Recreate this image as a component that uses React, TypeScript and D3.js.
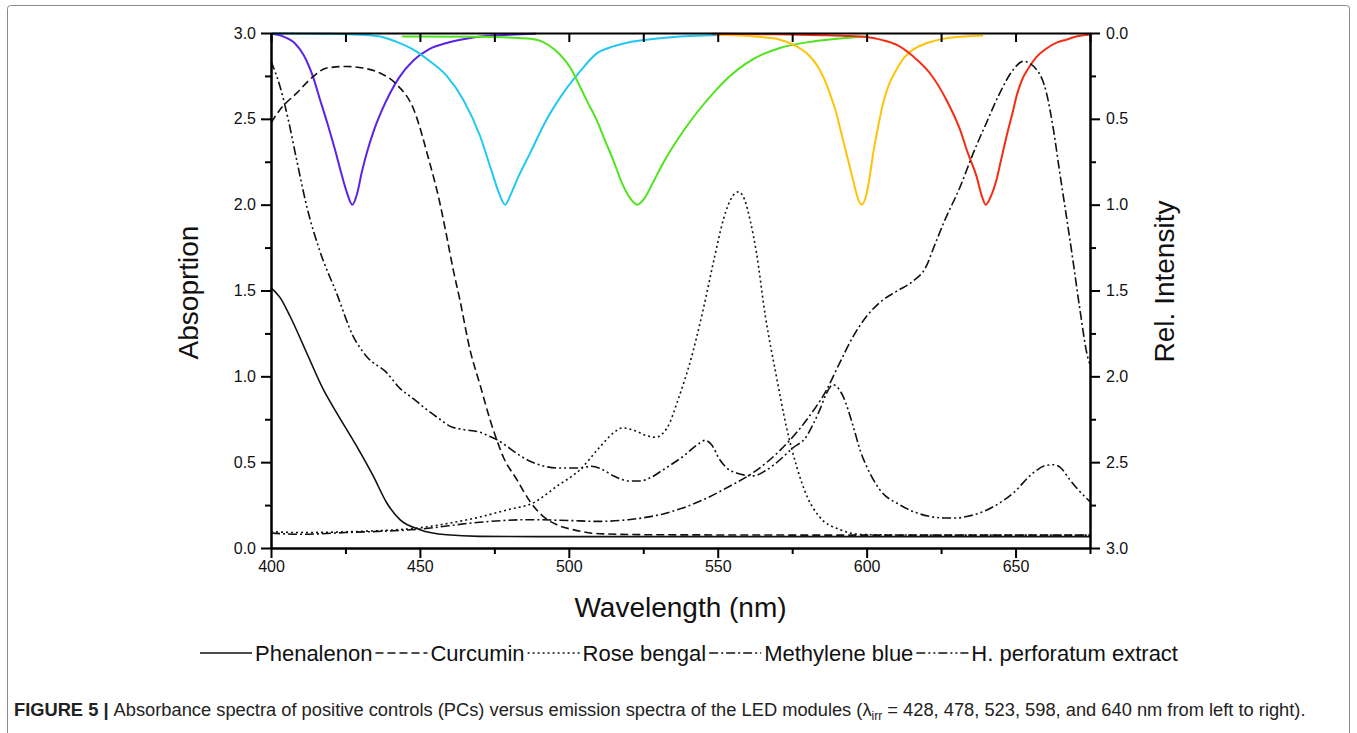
import React, { useEffect, useRef } from 'react';
import * as d3 from 'd3';

type Pt = [number, number];

// LED emission spectra (wavelength nm, relative intensity) - right axis
const led428: Pt[] = [[400,0.005],[404,0.02],[408,0.06],[411,0.13],[414,0.25],[416.5,0.39],[419,0.53],[421.5,0.68],[423.5,0.81],[425.5,0.93],[427.3,1.0],[429,0.93],[430.5,0.81],[432.3,0.69],[434.5,0.57],[437,0.46],[440,0.35],[443,0.26],[447.8,0.16],[453,0.095],[459,0.058],[465,0.035],[472,0.018],[480,0.01],[489,0.005]];
const led478: Pt[] = [[400,0.002],[420,0.004],[430,0.01],[436.6,0.02],[442,0.05],[447.8,0.097],[453,0.16],[459,0.25],[464.6,0.39],[470.2,0.6],[474,0.8],[476.5,0.93],[478.6,1.0],[480.5,0.94],[483,0.84],[487,0.7],[492.5,0.505],[498.1,0.35],[503.7,0.225],[509.3,0.12],[514.9,0.078],[520,0.055],[526,0.039],[537.3,0.02],[548,0.013],[560,0.008]];
const led523: Pt[] = [[444,0.02],[470,0.022],[480,0.026],[486,0.032],[491,0.05],[495.5,0.1],[500.4,0.2],[503.7,0.31],[506.5,0.41],[509.3,0.505],[512,0.62],[514.9,0.74],[518,0.88],[520.5,0.96],[523,1.0],[525.5,0.96],[528,0.88],[531.7,0.757],[537.3,0.6],[542.9,0.466],[548.5,0.35],[554.1,0.25],[559.7,0.175],[565,0.125],[570.9,0.087],[582,0.049],[590,0.033],[600,0.02]];
const led598: Pt[] = [[549.6,0.01],[559.7,0.016],[566,0.026],[570.9,0.039],[575,0.065],[579.8,0.117],[583,0.18],[585.3,0.25],[587.8,0.36],[589.8,0.466],[591.6,0.59],[593.2,0.7],[595.5,0.86],[597,0.96],[598.3,1.0],[599.8,0.95],[601,0.84],[602.2,0.7],[603.8,0.55],[605.5,0.41],[607.5,0.3],[610,0.214],[612.5,0.145],[615.6,0.097],[620,0.06],[626.8,0.03],[633,0.02],[639.1,0.014]];
const led640: Pt[] = [[548,0.005],[570,0.008],[585,0.013],[593,0.017],[600,0.023],[605,0.04],[610,0.068],[615.6,0.136],[621.2,0.233],[626.8,0.39],[631.3,0.56],[634,0.7],[636.9,0.835],[638.7,0.95],[640,1.0],[641.5,0.96],[643.6,0.855],[645,0.75],[647,0.6],[649.2,0.45],[650.3,0.37],[652,0.28],[654.7,0.195],[657,0.14],[660.4,0.09],[664,0.055],[667,0.039],[670.4,0.02],[674.6,0.01]];

// Absorption spectra of positive controls - left axis
const phenalenon: Pt[] = [[400,1.515],[403,1.46],[406.4,1.35],[412,1.136],[417.6,0.922],[422.1,0.786],[428.8,0.592],[434.4,0.417],[438.9,0.262],[443.3,0.165],[450,0.107],[459,0.077],[470,0.068],[500,0.066],[600,0.066],[675,0.066]];
const curcumin: Pt[] = [[400,2.476],[403,2.553],[408.6,2.65],[414.2,2.747],[418.7,2.796],[425.3,2.805],[430.9,2.796],[436.6,2.767],[442.2,2.7],[447.8,2.56],[453,2.262],[456.7,2.01],[459,1.815],[461.2,1.62],[463.4,1.447],[466.8,1.156],[470.2,0.95],[473.5,0.75],[475.8,0.63],[478,0.53],[482.5,0.4],[487,0.27],[491.4,0.184],[496,0.135],[501.4,0.107],[510.4,0.083],[530,0.077],[600,0.075],[675,0.075]];
const roseBengal: Pt[] = [[400,0.095],[410,0.09],[420,0.092],[430,0.097],[440,0.104],[450,0.118],[460,0.145],[470,0.18],[480,0.225],[488,0.262],[496,0.36],[504,0.46],[510,0.58],[515,0.67],[518,0.7],[522,0.685],[526,0.655],[529,0.645],[533,0.7],[537,0.88],[541,1.1],[545,1.38],[549,1.7],[552,1.92],[555,2.05],[557,2.075],[559,2.03],[561,1.9],[563,1.72],[566,1.35],[569.7,1.0],[573,0.71],[576.5,0.475],[580,0.3],[584,0.185],[591,0.107],[599,0.078],[620,0.075],[675,0.075]];
const methyleneBlue: Pt[] = [[400,0.087],[410,0.08],[425,0.09],[450,0.11],[470,0.15],[487,0.165],[500,0.16],[510,0.155],[520,0.165],[532,0.2],[545,0.28],[554,0.36],[562,0.44],[571,0.57],[580,0.75],[586.5,0.92],[591,1.08],[595.4,1.23],[600,1.35],[604.4,1.43],[610,1.495],[615.6,1.555],[620,1.64],[622.3,1.74],[626,1.9],[631.3,2.1],[635.8,2.3],[640.2,2.476],[644.7,2.65],[649.2,2.786],[652.6,2.835],[657.1,2.786],[660.4,2.65],[662.7,2.44],[664.9,2.18],[667.1,1.93],[669.4,1.66],[671.6,1.39],[674.4,1.1],[675,1.07]];
const hPerforatum: Pt[] = [[400,2.835],[403,2.69],[405.8,2.495],[408.6,2.262],[412,1.99],[416.4,1.73],[422,1.485],[427.6,1.233],[432.1,1.116],[438.9,1.02],[443.3,0.93],[447.8,0.87],[452,0.81],[456.7,0.75],[460,0.71],[464.6,0.69],[470,0.675],[473.5,0.65],[476,0.63],[479,0.595],[483,0.545],[487,0.505],[491,0.48],[495.9,0.466],[503.7,0.466],[507.5,0.476],[511,0.46],[515,0.42],[520.5,0.39],[524,0.39],[527.2,0.408],[531.7,0.456],[538.4,0.534],[544,0.612],[545.7,0.627],[548,0.6],[550.7,0.514],[553.5,0.46],[556.3,0.437],[562,0.42],[566,0.45],[570.9,0.514],[575,0.58],[579.8,0.65],[582,0.72],[584.3,0.806],[586.5,0.9],[588.7,0.951],[590.5,0.93],[592.1,0.883],[595.5,0.708],[598,0.56],[600,0.475],[604.4,0.34],[611.1,0.252],[616,0.21],[621.2,0.184],[626,0.175],[630.2,0.175],[634,0.185],[638,0.204],[643,0.245],[649.2,0.32],[655.9,0.437],[660,0.48],[662.7,0.485],[665,0.47],[668.2,0.398],[671,0.34],[675,0.27]];

const ledSeries = [led428, led478, led523, led598, led640];
const ledColors = ['#5b22e8', '#22c8f2', '#4fe41e', '#ffc305', '#f52c12'];

const pcNames = ['Phenalenon', 'Curcumin', 'Rose bengal', 'Methylene blue', 'H. perforatum extract'];
const pcSeries = [phenalenon, curcumin, roseBengal, methyleneBlue, hPerforatum];
const pcDash = ['none', '8,4', '2,3', '9,3,2,3', '9,3,2,3,2,3'];

const yMajor = [0, 0.5, 1, 1.5, 2, 2.5, 3];
const yMinor = [0.25, 0.75, 1.25, 1.75, 2.25, 2.75];
const xMajor = [400, 450, 500, 550, 600, 650];
const xMinor = [425, 475, 525, 575, 625, 675];

const FONT = 'Liberation Sans, Arial, Helvetica, sans-serif';

const App: React.FC = () => {
  const svgRef = useRef<SVGSVGElement>(null);

  useEffect(() => {
    if (!svgRef.current) return;
    const svg = d3.select(svgRef.current);
    svg.selectAll('*').remove();

    const left = 271, right = 1090, top = 33, bottom = 548;
    const x = d3.scaleLinear().domain([400, 675]).range([left, right]);
    const yL = d3.scaleLinear().domain([0, 3]).range([bottom, top]);
    const yR = d3.scaleLinear().domain([0, 3]).range([top, bottom]);

    // outer figure frame
    svg.append('rect')
      .attr('x', 7.5).attr('y', 5.5)
      .attr('width', 1342).attr('height', 760)
      .attr('rx', 3)
      .attr('fill', 'none')
      .attr('stroke', '#8a8a8a')
      .attr('stroke-width', 1);

    // LED emission curves
    const ledLine = d3.line<Pt>()
      .x(d => x(d[0]))
      .y(d => yR(d[1]))
      .curve(d3.curveMonotoneX);
    ledSeries.forEach((s, i) => {
      svg.append('path')
        .datum(s)
        .attr('fill', 'none')
        .attr('stroke', ledColors[i])
        .attr('stroke-width', 2)
        .attr('d', ledLine);
    });

    // absorption curves
    const pcLine = d3.line<Pt>()
      .x(d => x(d[0]))
      .y(d => yL(d[1]))
      .curve(d3.curveMonotoneX);
    pcSeries.forEach((s, i) => {
      svg.append('path')
        .datum(s)
        .attr('fill', 'none')
        .attr('stroke', '#111')
        .attr('stroke-width', 1.6)
        .attr('stroke-dasharray', pcDash[i])
        .attr('d', pcLine);
    });

    const styleAxis = (g: d3.Selection<SVGGElement, unknown, null, undefined>) => {
      g.selectAll('path, line').attr('stroke', '#000').attr('stroke-width', 2);
      g.selectAll('text').attr('font-family', FONT).attr('font-size', 16).attr('fill', '#111');
    };
    const fmt = d3.format('.1f');

    // left axis
    const gl = svg.append('g').attr('transform', `translate(${left},0)`);
    gl.call(d3.axisLeft(yL).tickValues(yMajor).tickFormat(fmt).tickSize(10).tickSizeOuter(0).tickPadding(5));
    gl.append('g').call(d3.axisLeft(yL).tickValues(yMinor).tickFormat(() => '').tickSize(6).tickSizeOuter(0));
    styleAxis(gl);

    // right axis (inverted)
    const gr = svg.append('g').attr('transform', `translate(${right},0)`);
    gr.call(d3.axisRight(yR).tickValues(yMajor).tickFormat(fmt).tickSize(10).tickSizeOuter(0).tickPadding(6));
    gr.append('g').call(d3.axisRight(yR).tickValues(yMinor).tickFormat(() => '').tickSize(6).tickSizeOuter(0));
    styleAxis(gr);

    // bottom axis
    const gb = svg.append('g').attr('transform', `translate(0,${bottom})`);
    gb.call(d3.axisBottom(x).tickValues(xMajor).tickFormat(d3.format('d')).tickSize(10).tickSizeOuter(0).tickPadding(3));
    gb.append('g').call(d3.axisBottom(x).tickValues(xMinor).tickFormat(() => '').tickSize(6).tickSizeOuter(0));
    styleAxis(gb);

    // top axis, inward ticks
    const gt = svg.append('g').attr('transform', `translate(0,${top})`);
    gt.call(d3.axisTop(x).tickValues([...xMajor, ...xMinor]).tickFormat(() => '').tickSize(-9).tickSizeOuter(0));
    styleAxis(gt);

    // axis titles
    svg.append('text')
      .attr('transform', `translate(198,${(top + bottom) / 2 + 2}) rotate(-90)`)
      .attr('text-anchor', 'middle')
      .attr('font-family', FONT).attr('font-size', 28).attr('fill', '#111')
      .text('Absoprtion');
    svg.append('text')
      .attr('transform', `translate(1174,${(top + bottom) / 2 - 9}) rotate(-90)`)
      .attr('text-anchor', 'middle')
      .attr('font-family', FONT).attr('font-size', 28).attr('fill', '#111')
      .text('Rel. Intensity');
    svg.append('text')
      .attr('x', (left + right) / 2)
      .attr('y', 617)
      .attr('text-anchor', 'middle')
      .attr('font-family', FONT).attr('font-size', 28).attr('fill', '#111')
      .text('Wavelength (nm)');

    // legend, laid out in a row
    const lg = svg.append('g');
    let cx = 200;
    const ly = 653;
    pcNames.forEach((name, i) => {
      lg.append('line')
        .attr('x1', cx).attr('x2', cx + 52)
        .attr('y1', ly).attr('y2', ly)
        .attr('stroke', '#111').attr('stroke-width', 1.6)
        .attr('stroke-dasharray', pcDash[i]);
      cx += 55;
      const t = lg.append('text')
        .attr('x', cx).attr('y', ly + 7.5)
        .attr('font-family', FONT).attr('font-size', 22).attr('fill', '#111')
        .text(name);
      const w = (t.node() as SVGTextElement).getComputedTextLength();
      cx += w + 3;
    });

    // caption
    const cap = svg.append('text')
      .attr('x', 14).attr('y', 716)
      .attr('font-family', FONT).attr('font-size', 18.3).attr('fill', '#222');
    cap.append('tspan').attr('font-weight', 'bold').text('FIGURE 5 | ');
    cap.append('tspan').text('Absorbance spectra of positive controls (PCs) versus emission spectra of the LED modules (\u03bb');
    cap.append('tspan').attr('font-size', 12).attr('dy', 4).text('irr');
    cap.append('tspan').attr('dy', -4).text(' = 428, 478, 523, 598, and 640 nm from left to right).');
  }, []);

  return (
    <svg
      ref={svgRef}
      width={1357}
      height={733}
      viewBox="0 0 1357 733"
      style={{ position: 'absolute', left: 0, top: 0, background: '#fff' }}
    />
  );
};

export default App;
